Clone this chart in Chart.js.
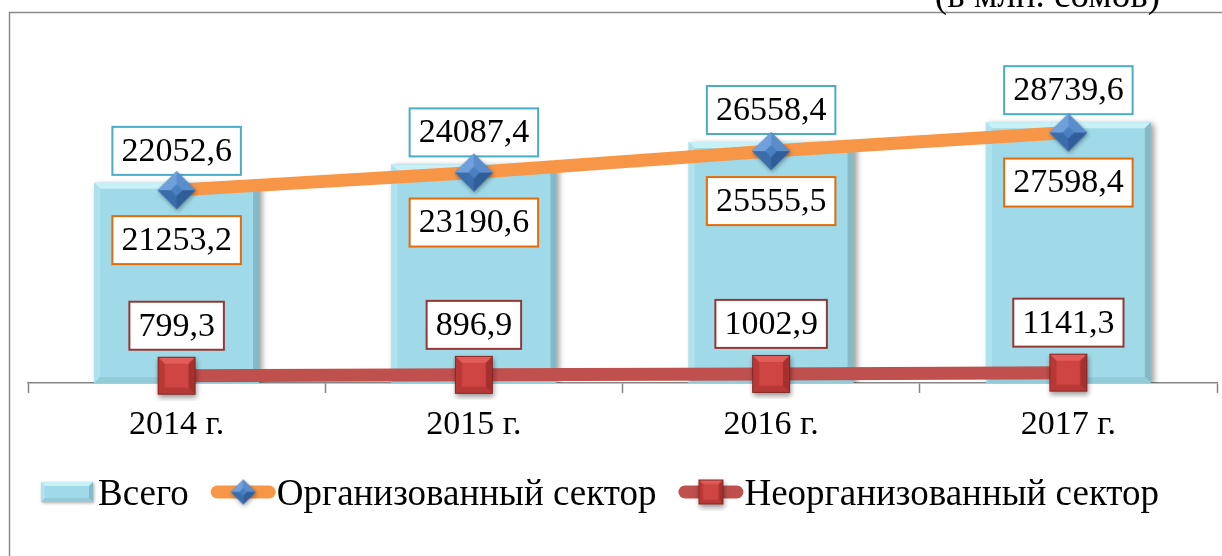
<!DOCTYPE html>
<html lang="ru">
<head>
<meta charset="utf-8">
<script src="https://cdn.jsdelivr.net/npm/chart.js@4.4.0/dist/chart.umd.min.js"></script>
<style>
    html, body { margin: 0; padding: 0; background: #fff; }
    #wrap { position: relative; width: 1222px; height: 556px; overflow: hidden; }
</style>
</head>
<body>
<div id="wrap"><canvas id="chart" width="1222" height="556"></canvas></div>
<script>
const years = ['2014 г.', '2015 г.', '2016 г.', '2017 г.'];
const totalValues = [22052.6, 24087.4, 26558.4, 28739.6];
const organizedValues = [21253.2, 23190.6, 25555.5, 27598.4];
const unorganizedValues = [799.3, 896.9, 1002.9, 1141.3];
const seriesNames = ['Всего', 'Организованный сектор', 'Неорганизованный сектор'];
const unitNote = '(в млн. сомов)';

const FONT_FAMILY = "'Liberation Serif', 'Times New Roman', serif";
const FONT = '34px ' + FONT_FAMILY;
const TEXT_FONT = '37px ' + FONT_FAMILY;

// цвета
const barColors = { mid: '#a0dae8', top: '#c8f0f7', left: '#aee2ed', right: '#86b9c6', bottom: '#94cbd8' };
const blueMarker = { base: '#4a7ebf', tl: '#6fa0dc', tr: '#5a8dcc', br: '#2f5e99', bl: '#3c6dab', mid: '#4a80c2', edge: '#2c558a' };
const redMarker = { base: '#c0403e', tl: '#e25c5a', tr: '#e25c5a', br: '#a5302e', bl: '#b83836', mid: '#cf4543', edge: '#862624' };

function fmt(v) {
    return v.toFixed(1).replace('.', ',');
}

function poly(g, pts, color) {
    g.beginPath();
    g.moveTo(pts[0][0], pts[0][1]);
    for (let i = 1; i < pts.length; i++) g.lineTo(pts[i][0], pts[i][1]);
    g.closePath();
    g.fillStyle = color;
    g.fill();
}

// ромб с фасками
function makeDiamond(r, c) {
    const pad = 6;
    const s = Math.ceil(2 * r + 2 * pad);
    const cv = document.createElement('canvas');
    cv.width = s; cv.height = s;
    const g = cv.getContext('2d');
    const cx = s / 2, cy = s / 2, k = r * 0.3;
    const T = [cx, cy - r], R = [cx + r, cy], B = [cx, cy + r], L = [cx - r, cy];
    const t = [cx, cy - k], rr = [cx + k, cy], b = [cx, cy + k], l = [cx - k, cy];
    g.save();
    g.shadowColor = 'rgba(0,0,0,0.35)';
    g.shadowBlur = 4; g.shadowOffsetX = 1; g.shadowOffsetY = 2;
    poly(g, [T, R, B, L], c.base);
    g.restore();
    poly(g, [L, T, t, l], c.tl);
    poly(g, [T, R, rr, t], c.tr);
    poly(g, [R, B, b, rr], c.br);
    poly(g, [B, L, l, b], c.bl);
    poly(g, [t, rr, b, l], c.mid);
    return cv;
}

// квадрат с фасками
function makeSquare(h, c) {
    const pad = 6;
    const s = Math.ceil(2 * h + 2 * pad);
    const cv = document.createElement('canvas');
    cv.width = s; cv.height = s;
    const g = cv.getContext('2d');
    const cx = s / 2, cy = s / 2, k = h * 0.62;
    const A = [cx - h, cy - h], Bp = [cx + h, cy - h], C = [cx + h, cy + h], D = [cx - h, cy + h];
    const a = [cx - k, cy - k], b = [cx + k, cy - k], c2 = [cx + k, cy + k], d = [cx - k, cy + k];
    g.save();
    g.shadowColor = 'rgba(0,0,0,0.4)';
    g.shadowBlur = 5; g.shadowOffsetX = 1; g.shadowOffsetY = 3;
    poly(g, [A, Bp, C, D], c.base);
    g.restore();
    poly(g, [A, Bp, b, a], c.tl);
    poly(g, [Bp, C, c2, b], c.br);
    poly(g, [C, D, d, c2], c.bl);
    poly(g, [D, A, a, d], c.bl);
    poly(g, [a, b, c2, d], c.mid);
    g.strokeStyle = c.edge;
    g.lineWidth = 1;
    g.strokeRect(cx - h + 0.5, cy - h + 0.5, 2 * h - 1, 2 * h - 1);
    return cv;
}

function bevelRect(ctx, l, t, r, b, bw, c) {
    poly(ctx, [[l, t], [r, t], [r - bw, t + bw], [l + bw, t + bw]], c.top);
    poly(ctx, [[l, t], [l + bw, t + bw], [l + bw, b - bw], [l, b]], c.left);
    poly(ctx, [[r, t], [r, b], [r - bw, b - bw], [r - bw, t + bw]], c.right);
    poly(ctx, [[l, b], [l + bw, b - bw], [r - bw, b - bw], [r, b]], c.bottom);
}

function labelBox(ctx, text, cx, cy, border) {
    ctx.font = FONT;
    const w = ctx.measureText(text).width + 18;
    const h = 48;
    ctx.fillStyle = '#fff';
    ctx.fillRect(cx - w / 2, cy - h / 2, w, h);
    ctx.strokeStyle = border;
    ctx.lineWidth = 2;
    ctx.strokeRect(cx - w / 2, cy - h / 2, w, h);
    ctx.fillStyle = '#000';
    ctx.textAlign = 'center';
    ctx.textBaseline = 'middle';
    ctx.fillText(text, cx, cy + 1);
}

const diamondBig = makeDiamond(19, blueMarker);
const squareBig = makeSquare(19, redMarker);
const diamondSmall = makeDiamond(12.5, blueMarker);
const squareSmall = makeSquare(12.5, redMarker);

// рамка и подпись единиц
const framePlugin = {
    id: 'frame',
    beforeDraw(chart) {
        const ctx = chart.ctx;
        ctx.save();
        ctx.fillStyle = '#fff';
        ctx.fillRect(0, 0, chart.width, chart.height);
        ctx.strokeStyle = '#8a8a8a';
        ctx.lineWidth = 1.5;
        ctx.strokeRect(9.5, 12.5, 1400, 700);
        ctx.font = TEXT_FONT;
        ctx.fillStyle = '#000';
        ctx.textAlign = 'right';
        ctx.textBaseline = 'alphabetic';
        ctx.fillText(unitNote, 1160, 7);
        ctx.restore();
    }
};

// тень и фаски у столбцов, подписи значений
const barStylePlugin = {
    id: 'barStyle',
    beforeDatasetDraw(chart, args) {
        if (args.index !== 0) return;
        const ctx = chart.ctx;
        ctx.save();
        ctx.shadowColor = 'rgba(0,0,0,0.4)';
        ctx.shadowBlur = 6;
        ctx.shadowOffsetX = 3;
        ctx.shadowOffsetY = 2;
    },
    afterDatasetDraw(chart, args) {
        if (args.index !== 0) return;
        const ctx = chart.ctx;
        ctx.restore();
        ctx.save();
        args.meta.data.forEach(bar => {
            const p = bar.getProps(['x', 'y', 'base', 'width'], true);
            bevelRect(ctx, p.x - p.width / 2, p.y, p.x + p.width / 2, p.base, 6, barColors);
        });
        chart.data.datasets.forEach((ds, i) => {
            const meta = chart.getDatasetMeta(i);
            meta.data.forEach((el, j) => {
                labelBox(ctx, fmt(ds.data[j]), el.x, el.y + ds.labelShift, ds.labelBorder);
            });
        });
        ctx.restore();
    }
};

// легенда
const legendPlugin = {
    id: 'customLegend',
    afterDraw(chart) {
        const ctx = chart.ctx;
        ctx.save();
        ctx.font = TEXT_FONT;
        ctx.textBaseline = 'alphabetic';
        ctx.textAlign = 'left';
        const cy = 492;
        const base = 505;
        let x = 41;

        // Всего
        ctx.save();
        ctx.shadowColor = 'rgba(0,0,0,0.35)';
        ctx.shadowBlur = 3; ctx.shadowOffsetX = 1; ctx.shadowOffsetY = 1;
        ctx.fillStyle = barColors.mid;
        ctx.fillRect(x, cy - 10, 52, 20);
        ctx.restore();
        bevelRect(ctx, x, cy - 10, x + 52, cy + 10, 4, barColors);
        x += 57;
        ctx.fillStyle = '#000';
        ctx.fillText(seriesNames[0], x, base);
        x += ctx.measureText(seriesNames[0]).width + 22;

        // линии с маркерами
        const lines = [
            { color: '#f79646', img: diamondSmall, name: seriesNames[1] },
            { color: '#c0504d', img: squareSmall, name: seriesNames[2] }
        ];
        lines.forEach(item => {
            ctx.strokeStyle = item.color;
            ctx.lineWidth = 13;
            ctx.lineCap = 'round';
            ctx.beginPath();
            ctx.moveTo(x + 6.5, cy);
            ctx.lineTo(x + 58.5, cy);
            ctx.stroke();
            ctx.drawImage(item.img, x + 32.5 - item.img.width / 2, cy - item.img.height / 2);
            x += 66;
            ctx.fillStyle = '#000';
            ctx.fillText(item.name, x, base);
            x += ctx.measureText(item.name).width + 22;
        });
        ctx.restore();
    }
};

const ctx = document.getElementById('chart').getContext('2d');
new Chart(ctx, {
    type: 'bar',
    data: {
        labels: years,
        datasets: [
            {
                type: 'bar',
                label: seriesNames[0],
                data: totalValues,
                backgroundColor: barColors.mid,
                borderWidth: 0,
                barPercentage: 0.555,
                categoryPercentage: 1,
                order: 3,
                labelShift: -32,
                labelBorder: '#4bacc6'
            },
            {
                type: 'line',
                label: seriesNames[1],
                data: organizedValues,
                borderColor: '#f79646',
                borderWidth: 13,
                borderCapStyle: 'butt',
                tension: 0,
                pointStyle: diamondBig,
                pointRadius: 19,
                fill: false,
                clip: false,
                order: 2,
                labelShift: 50,
                labelBorder: '#e36c09'
            },
            {
                type: 'line',
                label: seriesNames[2],
                data: unorganizedValues,
                borderColor: '#c0504d',
                borderWidth: 13,
                borderCapStyle: 'butt',
                tension: 0,
                pointStyle: squareBig,
                pointRadius: 19,
                fill: false,
                clip: false,
                order: 1,
                labelShift: -50,
                labelBorder: '#953735'
            }
        ]
    },
    options: {
        responsive: false,
        animation: false,
        devicePixelRatio: 1,
        layout: { autoPadding: false, padding: { top: 20, left: 28, right: 5, bottom: 0 } },
        plugins: {
            legend: { display: false },
            tooltip: { enabled: false }
        },
        scales: {
            x: {
                offset: true,
                grid: {
                    offset: true,
                    drawOnChartArea: false,
                    drawTicks: true,
                    tickLength: 10,
                    tickWidth: 1.5,
                    color: '#868686'
                },
                border: { display: true, color: '#868686', width: 1.5 },
                ticks: {
                    color: '#000',
                    padding: 12,
                    font: { family: FONT_FAMILY, size: 34 }
                },
                afterFit(scale) {
                    scale.height = 173;
                    scale.paddingLeft = 0;
                    scale.paddingRight = 0;
                }
            },
            y: {
                display: false,
                min: 0,
                max: 40000
            }
        }
    },
    plugins: [framePlugin, barStylePlugin, legendPlugin]
});
</script>
</body>
</html>
